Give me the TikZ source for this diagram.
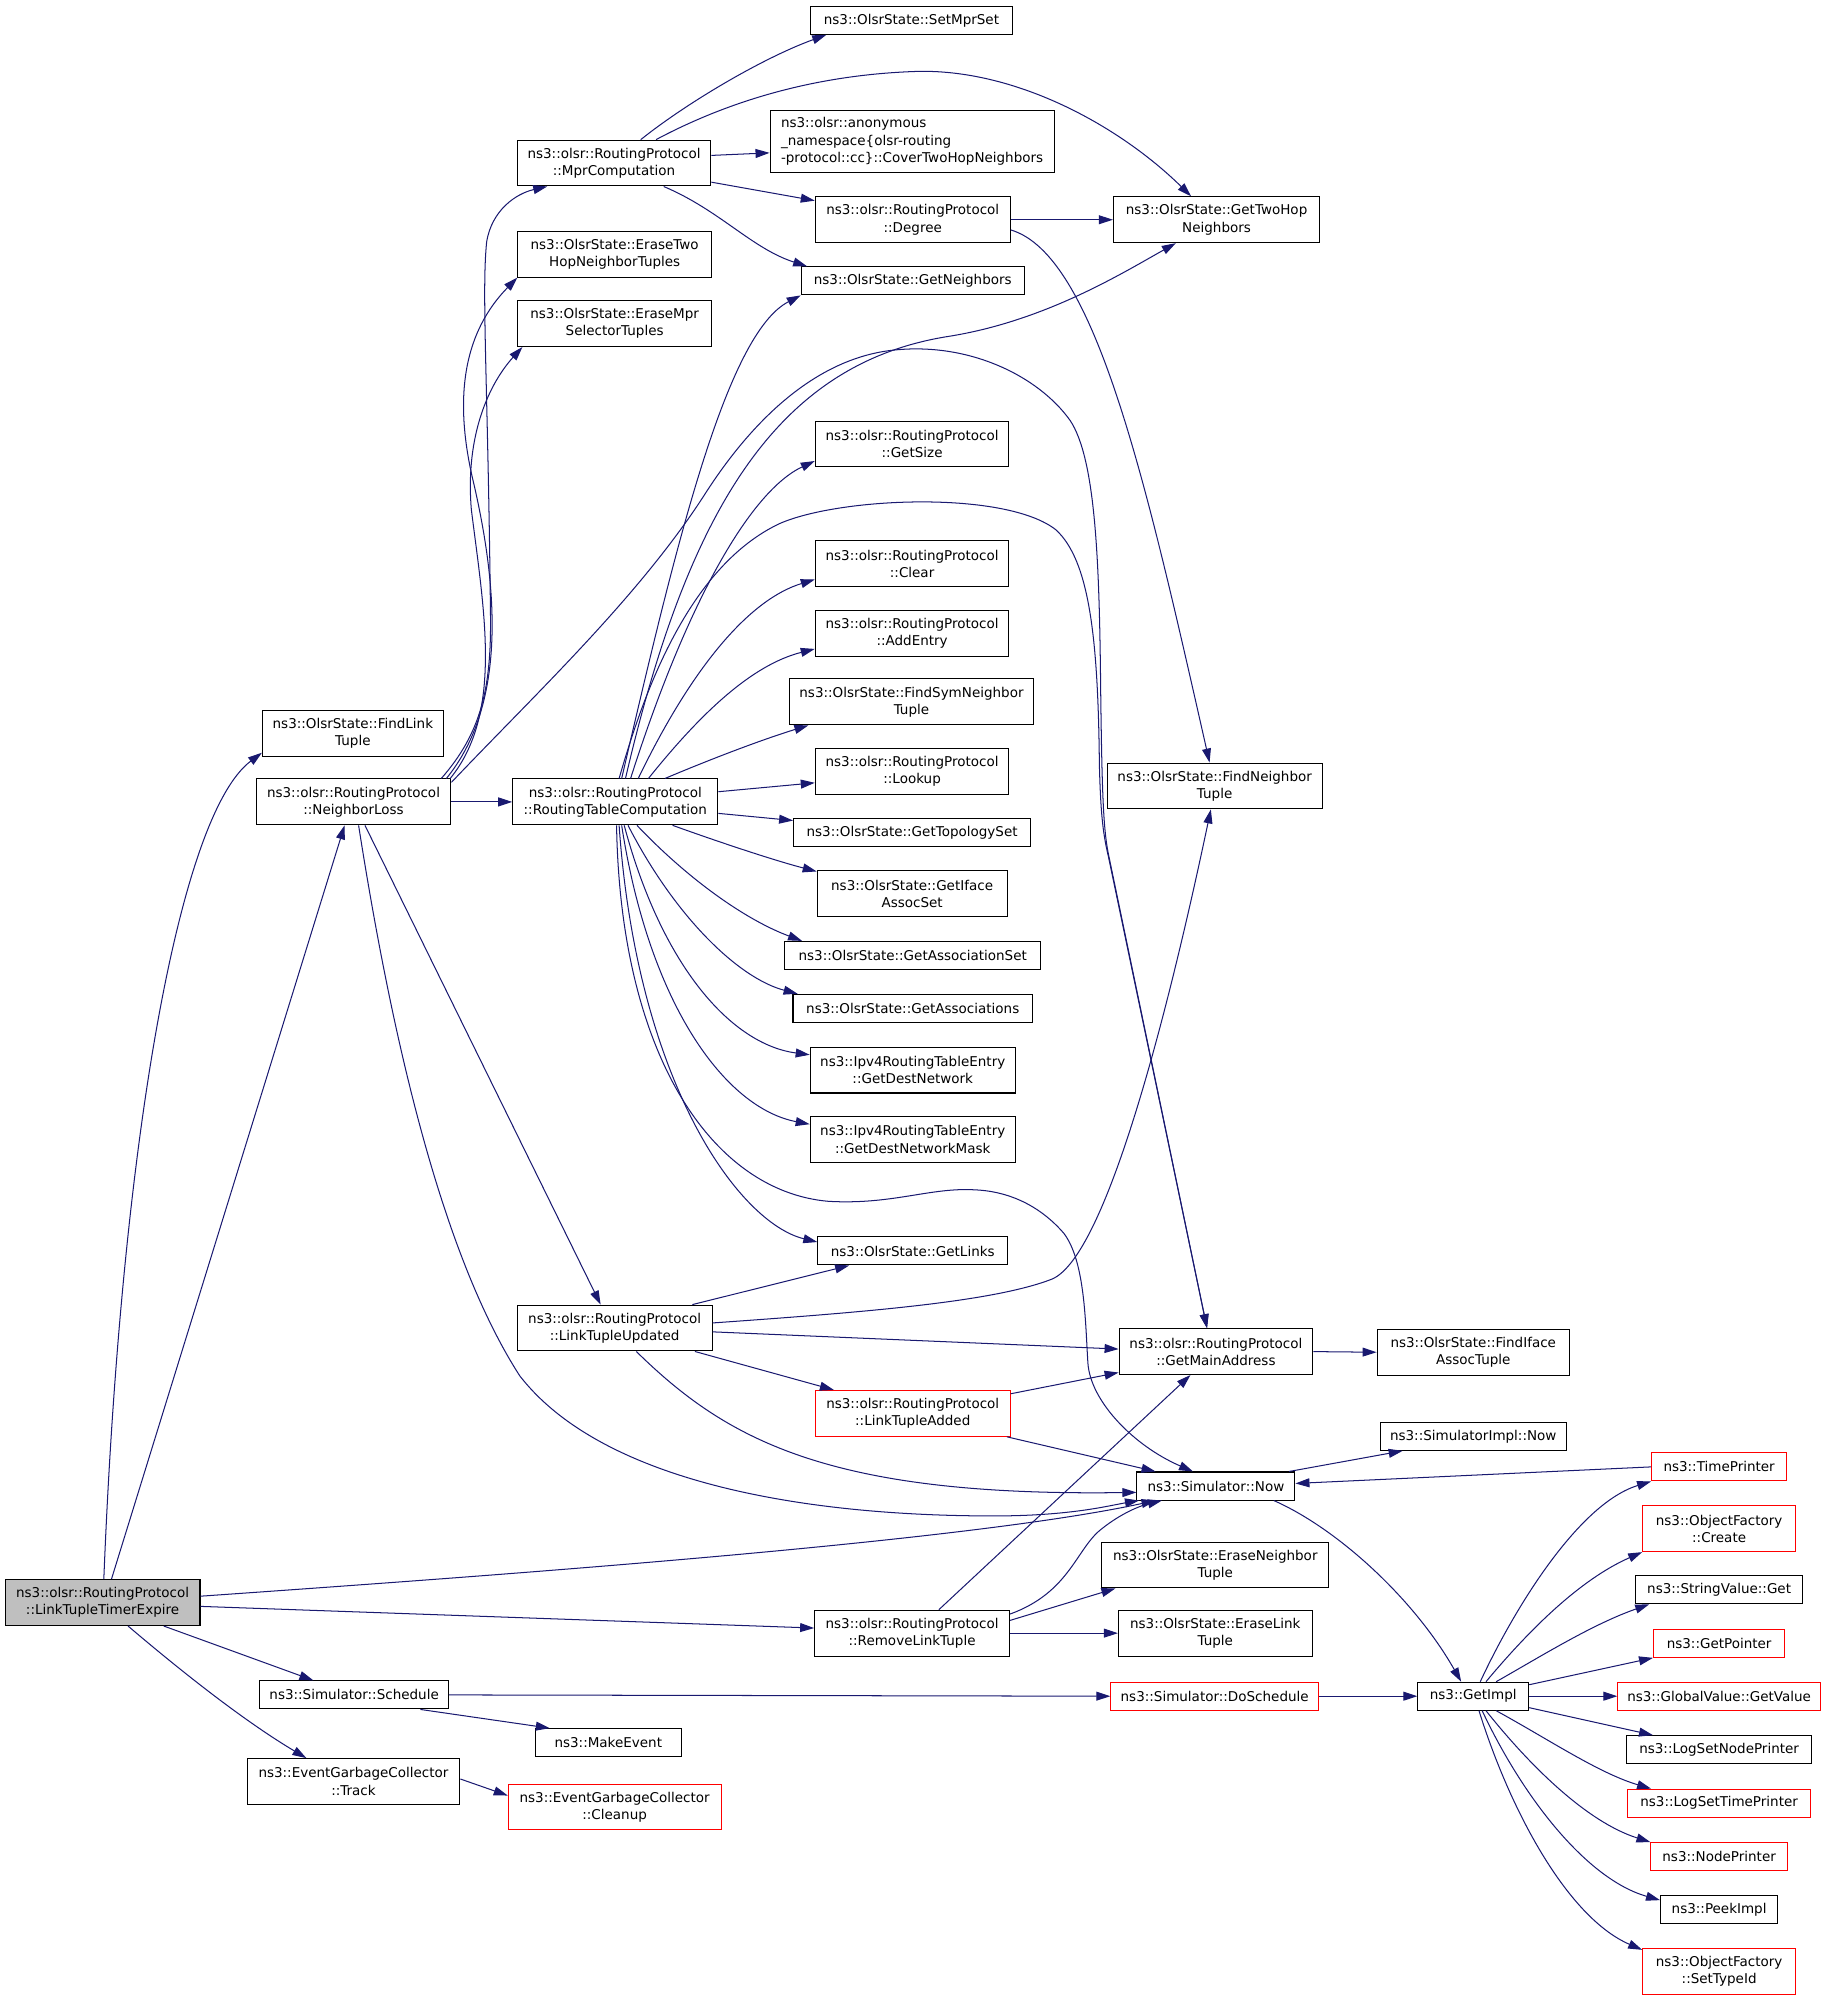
\documentclass[tikz,border=0pt]{standalone}
\usepackage{fontspec}
\setmainfont{DejaVu Sans}
\usepackage{xcolor}
\usetikzlibrary{positioning, calc, arrows.meta}

\definecolor{edgeblue}{HTML}{191970}
\definecolor{curgray}{HTML}{BFBFBF}

\begin{document}
\begin{tikzpicture}[x=1pt, y=-1pt,
  fn/.style={draw=black, fill=white, line width=0.8pt, inner sep=0pt, align=center, font=\fontsize{10.6}{13.5}\selectfont},
  fnred/.style={fn, draw=red},
  flat/.style={minimum height=22pt},
  tall/.style={minimum height=36pt},
  call/.style={draw=edgeblue, line width=0.8pt, -{Triangle[length=11pt, width=7pt]}}]
  \useasboundingbox (0,0) rectangle (1434,1570);

  % left column
  \node[fn, tall, fill=curgray, minimum width=153pt] (expire) at (80.5,1258) {ns3::olsr::RoutingProtocol\\::LinkTupleTimerExpire};
  \node[fn, tall, minimum width=142pt] (findlink) at (277,575.5) {ns3::OlsrState::FindLink\\Tuple};
  \node[fn, tall, minimum width=153pt] (nloss) at (277.5,629.5) {ns3::olsr::RoutingProtocol\\::NeighborLoss};
  \node[fn, flat, minimum width=148pt] (sched) at (278,1330.5) {ns3::Simulator::Schedule};
  \node[fn, tall, minimum width=167pt] (track) at (277.5,1398.5) {ns3::EventGarbageCollector\\::Track};

  \node[fn, tall, minimum width=152pt] (mpr) at (482,128) {ns3::olsr::RoutingProtocol\\::MprComputation};
  \node[fn, tall, minimum width=152pt] (erasetwo) at (482.5,199.5) {ns3::OlsrState::EraseTwo\\HopNeighborTuples};
  \node[fn, tall, minimum width=152pt] (erasempr) at (482.5,254) {ns3::OlsrState::EraseMpr\\SelectorTuples};
  \node[fn, tall, minimum width=161pt] (rtc) at (483,629.5) {ns3::olsr::RoutingProtocol\\::RoutingTableComputation};
  \node[fn, tall, minimum width=153pt] (ltupd) at (482.5,1042.5) {ns3::olsr::RoutingProtocol\\::LinkTupleUpdated};
  \node[fn, flat, minimum width=115pt] (mkevent) at (477.5,1368) {ns3::MakeEvent};
  \node[fnred, tall, minimum width=167pt] (cleanup) at (482.5,1418.5) {ns3::EventGarbageCollector\\::Cleanup};

  % middle column
  \node[fn, flat, minimum width=159pt] (setmpr) at (715.5,16) {ns3::OlsrState::SetMprSet};
  \node[fn, minimum height=49pt, minimum width=223pt, align=left] (cover) at (716,111) {ns3::olsr::anonymous\\\_namespace\{olsr-routing\\-protocol::cc\}::CoverTwoHopNeighbors};
  \node[fn, tall, minimum width=153pt] (degree) at (716.5,172.5) {ns3::olsr::RoutingProtocol\\::Degree};
  \node[fn, flat, minimum width=175pt] (neigh) at (716.5,220.5) {ns3::OlsrState::GetNeighbors};
  \node[fn, tall, minimum width=152pt] (getsize) at (716,348.5) {ns3::olsr::RoutingProtocol\\::GetSize};
  \node[fn, tall, minimum width=152pt] (clear) at (716,442.5) {ns3::olsr::RoutingProtocol\\::Clear};
  \node[fn, tall, minimum width=152pt] (addentry) at (716,497) {ns3::olsr::RoutingProtocol\\::AddEntry};
  \node[fn, tall, minimum width=191pt] (findsym) at (715.5,551) {ns3::OlsrState::FindSymNeighbor\\Tuple};
  \node[fn, tall, minimum width=152pt] (lookup) at (716,605.5) {ns3::olsr::RoutingProtocol\\::Lookup};
  \node[fn, flat, minimum width=186pt] (topo) at (716,653.5) {ns3::OlsrState::GetTopologySet};
  \node[fn, tall, minimum width=149pt] (ifaceset) at (716,701.5) {ns3::OlsrState::GetIface\\AssocSet};
  \node[fn, flat, minimum width=201pt] (assocset) at (716.5,750) {ns3::OlsrState::GetAssociationSet};
  \node[fn, flat, minimum width=188pt] (assocs) at (716.5,791.5) {ns3::OlsrState::GetAssociations};
  \node[fn, tall, minimum width=161pt] (destnet) at (716.5,840) {ns3::Ipv4RoutingTableEntry\\::GetDestNetwork};
  \node[fn, tall, minimum width=161pt] (destmask) at (716.5,894.5) {ns3::Ipv4RoutingTableEntry\\::GetDestNetworkMask};
  \node[fn, flat, minimum width=149pt] (links) at (716.5,982) {ns3::OlsrState::GetLinks};
  \node[fnred, tall, minimum width=153pt] (ltadd) at (716.5,1109.5) {ns3::olsr::RoutingProtocol\\::LinkTupleAdded};
  \node[fn, tall, minimum width=153pt] (remove) at (716,1282) {ns3::olsr::RoutingProtocol\\::RemoveLinkTuple};

  % right-middle column
  \node[fn, tall, minimum width=162pt] (twohop) at (955,172.5) {ns3::OlsrState::GetTwoHop\\Neighbors};
  \node[fn, tall, minimum width=169pt] (findnb) at (953.5,617) {ns3::OlsrState::FindNeighbor\\Tuple};
  \node[fn, tall, minimum width=152pt] (mainaddr) at (954.5,1061) {ns3::olsr::RoutingProtocol\\::GetMainAddress};
  \node[fn, flat, minimum width=124pt] (now) at (954.5,1166.5) {ns3::Simulator::Now};
  \node[fn, tall, minimum width=178pt] (erasenb) at (954,1228.5) {ns3::OlsrState::EraseNeighbor\\Tuple};
  \node[fn, tall, minimum width=152pt] (eraselink) at (954,1282) {ns3::OlsrState::EraseLink\\Tuple};
  \node[fnred, flat, minimum width=163pt] (dosched) at (953.5,1331.5) {ns3::Simulator::DoSchedule};

  \node[fn, tall, minimum width=151pt] (findiface) at (1156.5,1061.5) {ns3::OlsrState::FindIface\\AssocTuple};
  \node[fn, flat, minimum width=146pt] (implnow) at (1156.5,1127.5) {ns3::SimulatorImpl::Now};
  \node[fn, flat, minimum width=87pt] (getimpl) at (1156.5,1331.5) {ns3::GetImpl};

  % right column
  \node[fnred, flat, minimum width=106pt] (timepr) at (1349.5,1151.5) {ns3::TimePrinter};
  \node[fnred, tall, minimum width=120pt] (ofcreate) at (1349.5,1200) {ns3::ObjectFactory\\::Create};
  \node[fn, flat, minimum width=131pt] (strget) at (1349.5,1248) {ns3::StringValue::Get};
  \node[fnred, flat, minimum width=103pt] (getptr) at (1349.5,1290) {ns3::GetPointer};
  \node[fnred, flat, minimum width=159pt] (gvget) at (1349.5,1331.5) {ns3::GlobalValue::GetValue};
  \node[fn, flat, minimum width=145pt] (lognode) at (1349.5,1373.5) {ns3::LogSetNodePrinter};
  \node[fnred, flat, minimum width=144pt] (logtime) at (1349.5,1415.5) {ns3::LogSetTimePrinter};
  \node[fnred, flat, minimum width=107pt] (nodepr) at (1349.5,1457.5) {ns3::NodePrinter};
  \node[fn, flat, minimum width=92pt] (peek) at (1349.5,1499) {ns3::PeekImpl};
  \node[fnred, tall, minimum width=120pt] (typeid) at (1349.5,1547.5) {ns3::ObjectFactory\\::SetTypeId};

  % calls from LinkTupleTimerExpire
  \draw[call] ($(expire.north)+(1,0)$) .. controls (95,900) and (140,640) .. ($(findlink.south west)+(0,-3)$);
  \draw[call] ($(expire.north)+(7,0)$) -- ($(nloss.south)+(-7,0)$);
  \draw[call] ($(expire.east)+(0,-5)$) .. controls (400,1236) and (760,1210) .. ($(now.south west)+(15,0)$);
  \draw[call] ($(expire.east)+(0,3)$) -- ($(remove.west)+(0,-4)$);
  \draw[call] ($(expire.south)+(48,0)$) -- ($(sched.north)+(-32,0)$);
  \draw[call] ($(expire.south)+(20,0)$) .. controls (140,1310) and (190,1350) .. ($(track.north)+(-37,0)$);

  % calls from NeighborLoss
  \draw[call] (nloss.east) -- (rtc.west);
  \draw[call] ($(nloss.north east)+(-8,0)$) .. controls (378,575) and (386,540) .. (385,480)
    .. controls (383,300) and (378,230) .. (382,190) .. controls (386,165) and (405,152) .. ($(mpr.south west)+(24,0)$);
  \draw[call] ($(nloss.north east)+(-4,0)$) .. controls (392,560) and (395,480) .. (372,380)
    .. controls (355,310) and (365,260) .. (erasetwo.south west);
  \draw[call] ($(nloss.north east)+(-1,0)$) .. controls (395,560) and (380,480) .. (370,400)
    .. controls (365,340) and (385,300) .. ($(erasempr.south west)+(4,0)$);
  \draw[call] ($(nloss.north east)+(0,3)$) .. controls (420,545) and (500,470) .. (552,390)
    .. controls (590,330) and (640,282) .. (700,275) .. controls (760,268) and (815,295) .. (840,330)
    .. controls (860,360) and (863,440) .. (864,540) .. controls (865,620) and (866,650) .. (870,670)
    -- ($(mainaddr.north)+(-7,0)$);
  \draw[call] ($(nloss.south)+(9,0)$) -- ($(ltupd.north)+(-11,0)$);
  \draw[call] ($(nloss.south)+(4,0)$) .. controls (310,830) and (350,990) .. (408,1080)
    .. controls (470,1160) and (620,1190) .. (780,1190) .. controls (840,1190) and (870,1182) .. ($(now.south west)+(2,0)$);

  % calls from MprComputation
  \draw[call] ($(mpr.north)+(21,0)$) .. controls (540,80) and (600,45) .. ($(setmpr.south west)+(13,0)$);
  \draw[call] ($(mpr.north)+(33,0)$) .. controls (580,75) and (650,58) .. (722,56)
    .. controls (800,55) and (880,100) .. ($(twohop.north)+(-20,0)$);
  \draw[call] ($(mpr.east)+(0,-6)$) -- ($(cover.west)+(0,9)$);
  \draw[call] ($(mpr.east)+(0,15)$) -- ($(degree.west)+(0,-15)$);
  \draw[call] ($(mpr.south)+(39,0)$) .. controls (565,165) and (590,195) .. ($(neigh.north west)+(5,0)$);

  % calls from Degree
  \draw[call] (degree.east) -- (twohop.west);
  \draw[call] ($(degree.east)+(0,8)$) .. controls (860,200) and (900,380) .. ($(findnb.north)+(-4,0)$);

  % calls from RoutingTableComputation
  \draw[call] ($(rtc.north)+(5,0)$) .. controls (530,430) and (570,262) .. (neigh.south west);
  \draw[call] ($(rtc.north)+(8,0)$) .. controls (540,400) and (610,285) .. (745,264)
    .. controls (820,252) and (880,215) .. ($(twohop.south)+(-32,0)$);
  \draw[call] ($(rtc.north)+(3,0)$) .. controls (505,545) and (540,445) .. (612,411)
    .. controls (660,390) and (790,385) .. (829,416) .. controls (855,440) and (862,500) .. (863,600)
    .. controls (864,640) and (866,655) .. (870,672) -- ($(mainaddr.north)+(-7,0)$);
  \draw[call] ($(rtc.north)+(12,0)$) .. controls (540,470) and (590,385) .. ($(getsize.south west)+(0,-5)$);
  \draw[call] ($(rtc.north)+(18,0)$) .. controls (545,520) and (590,470) .. ($(clear.south west)+(0,-6)$);
  \draw[call] ($(rtc.north)+(26,0)$) .. controls (550,560) and (590,522) .. ($(addentry.south west)+(0,-6)$);
  \draw[call] ($(rtc.north)+(39,0)$) .. controls (560,595) and (600,580) .. ($(findsym.south west)+(15,0)$);
  \draw[call] ($(rtc.east)+(0,-8)$) -- ($(lookup.west)+(0,9)$);
  \draw[call] ($(rtc.east)+(0,9)$) -- ($(topo.north west)+(0,2)$);
  \draw[call] ($(rtc.south)+(45,0)$) .. controls (570,663) and (610,676) .. ($(ifaceset.north west)+(0,1)$);
  \draw[call] ($(rtc.south)+(17,0)$) .. controls (540,690) and (585,722) .. ($(assocset.north west)+(14,0)$);
  \draw[call] ($(rtc.south)+(10,0)$) .. controls (530,720) and (580,768) .. ($(assocs.north west)+(4,0)$);
  \draw[call] ($(rtc.south)+(7,0)$) .. controls (520,760) and (575,820) .. ($(destnet.west)+(0,-12)$);
  \draw[call] ($(rtc.south)+(5,0)$) .. controls (510,790) and (570,870) .. ($(destmask.west)+(0,-12)$);
  \draw[call] ($(rtc.south)+(3,0)$) .. controls (500,850) and (580,960) .. ($(links.west)+(0,-7)$);
  \draw[call] ($(rtc.south)+(1,0)$) .. controls (487,830) and (560,935) .. (650,943)
    .. controls (700,946) and (730,932) .. (765,934) .. controls (790,935) and (815,945) .. (835,968)
    .. controls (852,990) and (852,1040) .. (854,1070) .. controls (856,1100) and (890,1135) .. ($(now.north)+(-18,0)$);

  % calls from LinkTupleUpdated
  \draw[call] ($(ltupd.north)+(61,0)$) -- ($(links.south west)+(25,0)$);
  \draw[call] ($(ltupd.east)+(0,-4)$) .. controls (680,1030) and (780,1022) .. (826,1004)
    .. controls (870,985) and (920,780) .. ($(findnb.south)+(-3,0)$);
  \draw[call] ($(ltupd.east)+(0,3)$) -- ($(mainaddr.west)+(0,-2)$);
  \draw[call] ($(ltupd.south)+(63,0)$) -- ($(ltadd.north west)+(15,0)$);
  \draw[call] ($(ltupd.south)+(17,0)$) .. controls (570,1130) and (650,1175) .. ($(now.west)+(0,5)$);

  % calls from LinkTupleAdded and RemoveLinkTuple
  \draw[call] ($(ltadd.north east)+(0,3)$) -- ($(mainaddr.south west)+(0,-2)$);
  \draw[call] ($(ltadd.south east)+(-3,0)$) -- ($(now.north west)+(15,0)$);
  \draw[call] ($(remove.north)+(21,0)$) -- ($(mainaddr.south)+(-20,0)$);
  \draw[call] ($(remove.east)+(0,-15)$) .. controls (840,1250) and (845,1215) .. (865,1200)
    .. controls (880,1188) and (895,1182) .. ($(now.south west)+(20,0)$);
  \draw[call] ($(remove.east)+(0,-10)$) -- ($(erasenb.south west)+(11,0)$);
  \draw[call] (remove.east) -- (eraselink.west);

  % remaining calls
  \draw[call] (mainaddr.east) -- (findiface.west);
  \draw[call] ($(now.north east)+(-5,0)$) -- ($(implnow.south west)+(18,0)$);
  \draw[call] (timepr.west) -- ($(now.east)+(0,-2)$);
  \draw[call] ($(now.south east)+(-17,0)$) .. controls (1050,1200) and (1110,1255) .. ($(getimpl.north)+(-9.5,0)$);
  \draw[call] (dosched.east) -- (getimpl.west);
  \draw[call] (sched.east) -- (dosched.west);
  \draw[call] ($(sched.south)+(52,0)$) -- ($(mkevent.north west)+(12,0)$);
  \draw[call] ($(track.east)+(0,-2)$) -- ($(cleanup.west)+(0,-9)$);

  % calls from GetImpl
  \draw[call] ($(getimpl.north)+(5.5,0)$) .. controls (1190,1260) and (1240,1180) .. (timepr.south west);
  \draw[call] ($(getimpl.north)+(10,0)$) .. controls (1200,1280) and (1240,1240) .. (ofcreate.south west);
  \draw[call] ($(getimpl.north)+(18,0)$) .. controls (1210,1300) and (1250,1275) .. ($(strget.south west)+(11,0)$);
  \draw[call] ($(getimpl.east)+(0,-9)$) -- (getptr.south west);
  \draw[call] (getimpl.east) -- (gvget.west);
  \draw[call] ($(getimpl.east)+(0,9)$) -- ($(lognode.north west)+(21,0)$);
  \draw[call] ($(getimpl.south)+(18,0)$) .. controls (1215,1365) and (1255,1392) .. ($(logtime.north west)+(19,0)$);
  \draw[call] ($(getimpl.south)+(10,0)$) .. controls (1200,1385) and (1245,1430) .. (nodepr.north west);
  \draw[call] ($(getimpl.south)+(7,0)$) .. controls (1195,1410) and (1245,1475) .. ($(peek.north west)+(0,4)$);
  \draw[call] ($(getimpl.south)+(4.5,0)$) .. controls (1185,1420) and (1230,1505) .. ($(typeid.north west)+(0,1.5)$);
\end{tikzpicture}
\end{document}
